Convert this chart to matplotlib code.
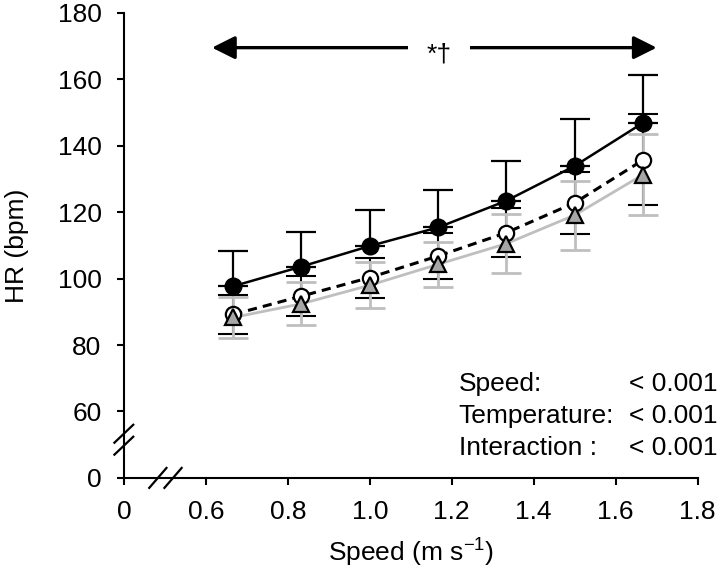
import numpy as np
import matplotlib
matplotlib.use("Agg")
import matplotlib.pyplot as plt

plt.rcParams['font.family'] = ['Liberation Sans', 'DejaVu Sans']
plt.rcParams['mathtext.default'] = 'regular'

# speed (m/s) and heart rate (bpm), mean and SD per condition
speed = [0.667, 0.833, 1.0, 1.167, 1.333, 1.5, 1.667]
hr_filled = [97.7, 103.6, 109.8, 115.4, 123.4, 133.9, 146.9]
sd_filled = [10.5, 10.4, 10.8, 11.3, 12.0, 14.2, 14.4]
hr_open = [89.2, 94.7, 100.3, 106.8, 113.8, 122.8, 135.7]
sd_open = [6.0, 6.1, 6.0, 6.9, 7.4, 9.3, 13.7]
hr_tri = [88.3, 92.4, 98.0, 104.3, 110.5, 119.1, 131.3]
sd_tri = [6.1, 6.5, 7.0, 6.7, 8.8, 10.4, 12.3]

yticks = [40, 60, 80, 100, 120, 140, 160, 180]
ytick_labels = ['0', '60', '80', '100', '120', '140', '160', '180']
xticks = [0.4, 0.6, 0.8, 1.0, 1.2, 1.4, 1.6, 1.8]
xtick_labels = ['0', '0.6', '0.8', '1.0', '1.2', '1.4', '1.6', '1.8']

stat_names = ['Speed:', 'Temperature:', 'Interaction :']
stat_values = ['< 0.001', '< 0.001', '< 0.001']
stat_rows = [66.2, 56.6, 47.0]

fig = plt.figure(figsize=(7.2, 5.8), dpi=100)
ax = fig.add_axes([0.172, 0.176, 0.797, 0.802])

grey_line = '#bfbfbf'
grey_face = '#a6a6a6'

# error bars
ax.errorbar(speed, hr_open, yerr=sd_open, fmt='none', ecolor='black',
            elinewidth=1.5, capsize=10.5, capthick=1.5, zorder=2)
ax.errorbar(speed, hr_tri, yerr=sd_tri, fmt='none', ecolor=grey_line,
            elinewidth=2, capsize=10.5, capthick=2, zorder=2.2)
ax.errorbar(speed, hr_filled, yerr=[np.zeros(len(sd_filled)), sd_filled], fmt='none',
            ecolor='black', elinewidth=1.6, capsize=10.5, capthick=1.6, zorder=2.4)

# lines
ax.plot(speed, hr_tri, color=grey_line, lw=2, zorder=3)
ax.plot(speed, hr_open, color='black', lw=2.2, ls=(0, (3, 2)), zorder=3.1)
ax.plot(speed, hr_filled, color='black', lw=1.8, zorder=3.2)

# markers
ax.plot(speed, hr_open, 'o', ms=11, mfc='white', mec='black', mew=1.6, zorder=4)
ax.plot(speed, hr_tri, '^', ms=11, mfc=grey_face, mec='black', mew=1.6, zorder=4.1)
ax.plot(speed, hr_filled, 'o', ms=12, mfc='black', mec='black', zorder=4.2)

ax.set_xlim(0.4, 1.8)
ax.set_ylim(40, 180)
ax.set_xticks(xticks)
ax.set_xticklabels(xtick_labels)
ax.set_yticks(yticks)
ax.set_yticklabels(ytick_labels)
ax.tick_params(labelsize=19, width=1.5, length=5, direction='out')
ax.tick_params(axis='y', pad=11)
ax.tick_params(axis='x', pad=11)
for s in ['top', 'right']:
    ax.spines[s].set_visible(False)
for s in ['left', 'bottom']:
    ax.spines[s].set_linewidth(1.5)

ax.set_ylabel('HR (bpm)', fontsize=19)
ax.yaxis.set_label_coords(-0.166, 0.5)
ax.set_xlabel('Speed (m s$^{-1}$)', fontsize=19, labelpad=9)

# axis break marks
for yc in [53.3, 49.7]:
    ax.plot([0.4 - 0.023, 0.4 + 0.023], [yc - 2.7, yc + 2.7], color='black', lw=1.6,
            clip_on=False, zorder=5)
for xc in [0.483, 0.52]:
    ax.plot([xc - 0.021, xc + 0.021], [40 - 3.0, 40 + 3.0], color='black', lw=1.6,
            clip_on=False, zorder=5)

# significance arrow
ax.annotate('', xy=(0.615, 169.5), xytext=(1.70, 169.5),
            arrowprops=dict(arrowstyle='<|-|>,head_length=0.7,head_width=0.35',
                            mutation_scale=20, lw=2.4, color='black',
                            shrinkA=0, shrinkB=0), zorder=5)
ax.text(1.17, 165.2, '*†', fontsize=19, ha='center', va='baseline', zorder=6,
        bbox=dict(boxstyle='square,pad=0.7', fc='white', ec='none'))

# statistics
for name, val, yy in zip(stat_names, stat_values, stat_rows):
    ax.text(1.217, yy, name, fontsize=19, ha='left', va='baseline')
    ax.text(1.849, yy, val, fontsize=19, ha='right', va='baseline', clip_on=False)

fig.savefig('out.png', dpi=100)
